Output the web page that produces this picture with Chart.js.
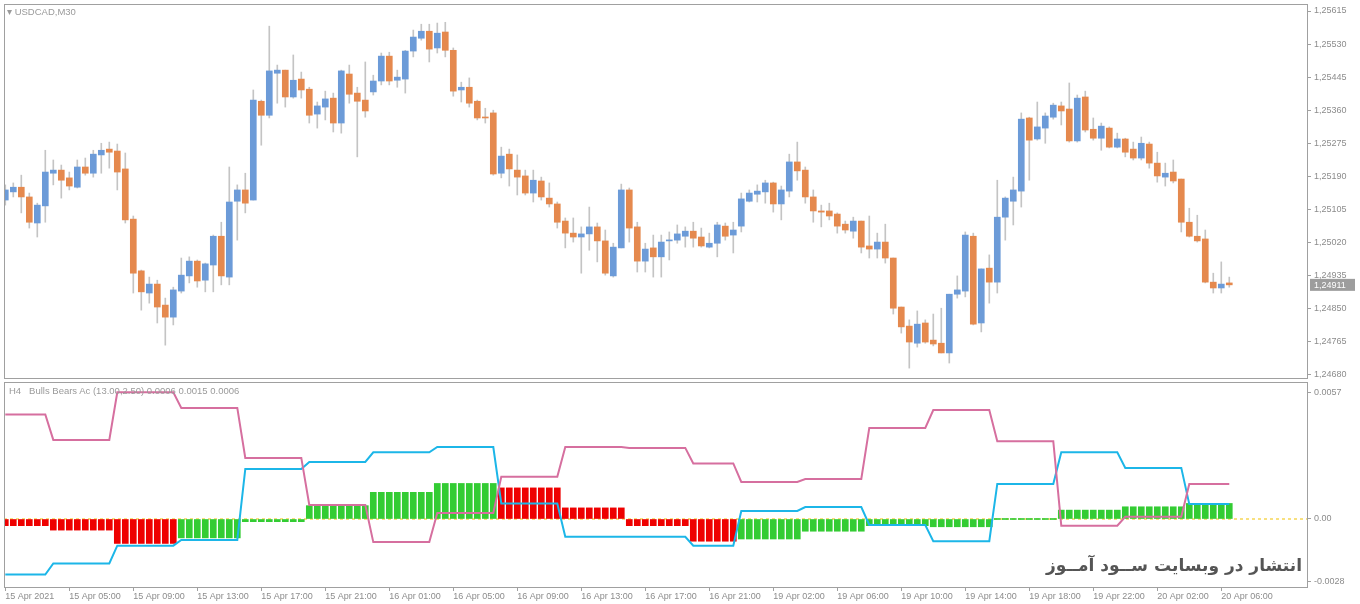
<!DOCTYPE html>
<html><head><meta charset="utf-8">
<script src="https://cdn.jsdelivr.net/npm/chart.js@4.4.1/dist/chart.umd.min.js"></script>
<style>
html,body{margin:0;padding:0;background:#fff;width:1360px;height:604px;overflow:hidden}
canvas{position:absolute;left:0}
.t{position:absolute;font:9.5px "Liberation Sans",Arial,sans-serif;color:#9a9a9a;white-space:pre}
#wm{position:absolute;right:58px;top:555px;font:bold 17px "DejaVu Sans",sans-serif;color:#555;direction:rtl}
</style></head><body>
<canvas id="c1" width="1360" height="380" style="top:0"></canvas>
<canvas id="c2" width="1360" height="224" style="top:380px"></canvas>
<div class="t" style="left:7px;top:6px">&#9662; USDCAD,M30</div>
<div class="t" style="left:9px;top:385px">H4   Bulls Bears Ac (13.00,2.50) 0.0006 0.0015 0.0006</div>
<div id="wm">انتشار در وبسایت ســود آمــوز</div>
<script>
const opens=[1.25129,1.25150,1.25162,1.25137,1.25070,1.25114,1.25198,1.25206,1.25186,1.25162,
1.25214,1.25198,1.25245,1.25260,1.25255,1.25209,1.25080,1.24947,1.24890,1.24913,
1.24859,1.24828,1.24895,1.24934,1.24972,1.24923,1.24962,1.25036,1.24931,1.25126,
1.25155,1.25129,1.25383,1.25347,1.25455,1.25463,1.25394,1.25440,1.25414,1.25350,
1.25368,1.25391,1.25327,1.25453,1.25404,1.25386,1.25407,1.25435,1.25499,1.25437,
1.25440,1.25512,1.25545,1.25563,1.25520,1.25561,1.25514,1.25412,1.25419,1.25383,
1.25342,1.25353,1.25198,1.25247,1.25206,1.25191,1.25147,1.25178,1.25134,1.25119,
1.25075,1.25044,1.25034,1.25042,1.25060,1.25024,1.24934,1.25006,1.25155,1.25060,
1.24972,1.25006,1.24983,1.25024,1.25026,1.25036,1.25049,1.25034,1.25008,1.25018,
1.25062,1.25039,1.25062,1.25126,1.25144,1.25150,1.25173,1.25119,1.25152,1.25227,
1.25206,1.25137,1.25101,1.25101,1.25093,1.25067,1.25049,1.25075,1.25011,1.25003,
1.25021,1.24980,1.24854,1.24805,1.24761,1.24813,1.24769,1.24761,1.24736,1.24887,
1.24895,1.25036,1.24813,1.24954,1.24918,1.25085,1.25126,1.25152,1.25340,1.25286,
1.25314,1.25342,1.25371,1.25363,1.25281,1.25394,1.25311,1.25288,1.25314,1.25265,
1.25286,1.25260,1.25237,1.25273,1.25224,1.25188,1.25201,1.25183,1.25072,1.25036,
1.25029,1.24918,1.24903,1.24916];
const highs=[1.25168,1.25173,1.25193,1.25147,1.25121,1.25257,1.25232,1.25219,1.25201,1.25232,
1.25237,1.25257,1.25275,1.25278,1.25273,1.25250,1.25088,1.24949,1.24931,1.24923,
1.24877,1.24905,1.24980,1.24983,1.24975,1.24967,1.25039,1.25072,1.25214,1.25168,
1.25198,1.25412,1.25386,1.25576,1.25476,1.25463,1.25502,1.25458,1.25419,1.25381,
1.25409,1.25404,1.25463,1.25476,1.25419,1.25484,1.25450,1.25507,1.25509,1.25463,
1.25514,1.25566,1.25581,1.25581,1.25584,1.25586,1.25520,1.25432,1.25443,1.25386,
1.25365,1.25360,1.25265,1.25260,1.25245,1.25206,1.25206,1.25188,1.25173,1.25124,
1.25083,1.25083,1.25060,1.25111,1.25070,1.25052,1.25018,1.25170,1.25160,1.25072,
1.25018,1.25039,1.25039,1.25047,1.25065,1.25060,1.25072,1.25057,1.25044,1.25072,
1.25070,1.25072,1.25147,1.25155,1.25168,1.25180,1.25175,1.25165,1.25247,1.25278,
1.25214,1.25155,1.25116,1.25121,1.25096,1.25075,1.25085,1.25075,1.25088,1.25044,
1.25067,1.24980,1.24854,1.24821,1.24844,1.24821,1.24836,1.24851,1.24887,1.24934,
1.25047,1.25044,1.24952,1.24988,1.25180,1.25137,1.25188,1.25353,1.25342,1.25381,
1.25353,1.25378,1.25381,1.25430,1.25399,1.25409,1.25340,1.25327,1.25317,1.25301,
1.25288,1.25278,1.25291,1.25278,1.25252,1.25224,1.25232,1.25183,1.25108,1.25090,
1.25052,1.24941,1.24970,1.24931];
const lows=[1.25116,1.25137,1.25096,1.25057,1.25034,1.25072,1.25168,1.25134,1.25155,1.25160,
1.25193,1.25188,1.25198,1.25211,1.25155,1.25070,1.24890,1.24846,1.24864,1.24813,
1.24756,1.24808,1.24890,1.24916,1.24905,1.24893,1.24893,1.24911,1.24911,1.25026,
1.25096,1.25129,1.25270,1.25340,1.25378,1.25368,1.25391,1.25391,1.25327,1.25314,
1.25335,1.25304,1.25301,1.25378,1.25240,1.25342,1.25399,1.25425,1.25425,1.25419,
1.25404,1.25497,1.25540,1.25484,1.25507,1.25497,1.25396,1.25381,1.25368,1.25335,
1.25327,1.25193,1.25186,1.25165,1.25142,1.25142,1.25124,1.25129,1.25111,1.25057,
1.25006,1.25021,1.24941,1.25000,1.24970,1.24936,1.24931,1.25006,1.25021,1.24944,
1.24944,1.24931,1.24931,1.24975,1.25018,1.25008,1.25008,1.25008,1.25006,1.24983,
1.25026,1.24993,1.25047,1.25124,1.25124,1.25121,1.25098,1.25078,1.25137,1.25180,
1.25121,1.25072,1.25060,1.25078,1.25044,1.25044,1.25031,1.24993,1.24980,1.24980,
1.24967,1.24836,1.24787,1.24697,1.24751,1.24761,1.24754,1.24736,1.24710,1.24877,
1.24880,1.24808,1.24790,1.24864,1.24890,1.25026,1.25065,1.25111,1.25180,1.25283,
1.25275,1.25337,1.25322,1.25278,1.25278,1.25304,1.25283,1.25257,1.25263,1.25263,
1.25240,1.25232,1.25232,1.25211,1.25175,1.25165,1.25173,1.25047,1.25034,1.25021,
1.24916,1.24890,1.24890,1.24905];
const closes=[1.25155,1.25162,1.25137,1.25072,1.25116,1.25201,1.25206,1.25180,1.25165,1.25214,
1.25198,1.25247,1.25257,1.25252,1.25201,1.25078,1.24941,1.24893,1.24913,1.24854,
1.24828,1.24898,1.24936,1.24972,1.24921,1.24965,1.25036,1.24934,1.25124,1.25155,
1.25121,1.25386,1.25347,1.25461,1.25463,1.25394,1.25437,1.25412,1.25347,1.25371,
1.25389,1.25327,1.25461,1.25401,1.25383,1.25358,1.25435,1.25499,1.25435,1.25445,
1.25512,1.25548,1.25563,1.25517,1.25558,1.25514,1.25409,1.25419,1.25378,1.25340,
1.25340,1.25196,1.25242,1.25209,1.25188,1.25147,1.25180,1.25137,1.25119,1.25072,
1.25044,1.25034,1.25042,1.25060,1.25024,1.24941,1.25008,1.25155,1.25057,1.24972,
1.25003,1.24983,1.25021,1.25026,1.25042,1.25049,1.25031,1.25011,1.25018,1.25065,
1.25036,1.25052,1.25132,1.25147,1.25152,1.25173,1.25119,1.25155,1.25227,1.25204,
1.25137,1.25101,1.25098,1.25088,1.25062,1.25052,1.25075,1.25008,1.25003,1.25021,
1.24980,1.24851,1.24803,1.24764,1.24810,1.24764,1.24759,1.24736,1.24887,1.24898,
1.25039,1.24810,1.24952,1.24918,1.25085,1.25134,1.25155,1.25337,1.25283,1.25317,
1.25345,1.25373,1.25358,1.25281,1.25391,1.25309,1.25288,1.25319,1.25265,1.25286,
1.25252,1.25237,1.25275,1.25224,1.25191,1.25198,1.25178,1.25072,1.25036,1.25024,
1.24918,1.24903,1.24913,1.24911];
const priceTicks=[1.25615,1.25530,1.25445,1.25360,1.25275,1.25190,1.25105,1.25020,1.24935,1.24850,1.24765,1.24680];
const lastPrice=1.24911;
const timeLabels=["15 Apr 2021","15 Apr 05:00","15 Apr 09:00","15 Apr 13:00","15 Apr 17:00","15 Apr 21:00","16 Apr 01:00","16 Apr 05:00","16 Apr 09:00","16 Apr 13:00","16 Apr 17:00","16 Apr 21:00","19 Apr 02:00","19 Apr 06:00","19 Apr 10:00","19 Apr 14:00","19 Apr 18:00","19 Apr 22:00","20 Apr 02:00","20 Apr 06:00"];
const hist=[-0.0003,-0.0003,-0.0003,-0.0003,-0.0003,-0.0003,
-0.0005,-0.0005,-0.0005,-0.0005,-0.0005,-0.0005,-0.0005,-0.0005,
-0.0011,-0.0011,-0.0011,-0.0011,-0.0011,-0.0011,-0.0011,-0.0011,
-0.00085,-0.00085,-0.00085,-0.00085,-0.00085,-0.00085,-0.00085,-0.00085,
-0.00012,-0.00012,-0.00012,-0.00012,-0.00012,-0.00012,-0.00012,-0.00012,
0.0006,0.0006,0.0006,0.0006,0.0006,0.0006,0.0006,0.0006,
0.0012,0.0012,0.0012,0.0012,0.0012,0.0012,0.0012,0.0012,
0.0016,0.0016,0.0016,0.0016,0.0016,0.0016,0.0016,0.0016,
0.0014,0.0014,0.0014,0.0014,0.0014,0.0014,0.0014,0.0014,
0.0005,0.0005,0.0005,0.0005,0.0005,0.0005,0.0005,0.0005,
-0.0003,-0.0003,-0.0003,-0.0003,-0.0003,-0.0003,-0.0003,-0.0003,
-0.001,-0.001,-0.001,-0.001,-0.001,-0.001,
-0.0009,-0.0009,-0.0009,-0.0009,-0.0009,-0.0009,-0.0009,-0.0009,
-0.00055,-0.00055,-0.00055,-0.00055,-0.00055,-0.00055,-0.00055,-0.00055,
-0.0003,-0.0003,-0.0003,-0.0003,-0.0003,-0.0003,-0.0003,-0.0003,
-0.00035,-0.00035,-0.00035,-0.00035,-0.00035,-0.00035,-0.00035,-0.00035,
-0.00003,-0.00003,-0.00003,-0.00003,-0.00003,-0.00003,-0.00003,-0.00003,
0.0004,0.0004,0.0004,0.0004,0.0004,0.0004,0.0004,0.0004,
0.00055,0.00055,0.00055,0.00055,0.00055,0.00055,0.00055,0.00055,
0.0007,0.0007,0.0007,0.0007,0.0007,0.0007];
const histState="RRRRRRRRRRRRRRRRRRRRRRGGGGGGGGGGGGGGGGGGGGGGGGGGGGGGGGGGGGGGGGRRRRRRRRRRRRRRRRRRRRRRRRRRRRRRGGGGGGGGGGGGGGGGGGGGGGGGGGGGGGGGGGGGGGGGGGGGGGGGGGGGGGGGGGGGGG";
const bulls=[0.0047,0.0047,0.0047,0.0047,0.0047,0.0047,
0.00356,0.00356,0.00356,0.00356,0.00356,0.00356,0.00356,0.00356,
0.0057,0.0057,0.0057,0.0057,0.0057,0.0057,0.0057,0.0057,
0.005,0.005,0.005,0.005,0.005,0.005,0.005,0.005,
0.00275,0.00275,0.00275,0.00275,0.00275,0.00275,0.00275,0.00275,
0.00063,0.00063,0.00063,0.00063,0.00063,0.00063,0.00063,0.00063,
-0.00104,-0.00104,-0.00104,-0.00104,-0.00104,-0.00104,-0.00104,-0.00104,
0.00027,0.00027,0.00027,0.00027,0.00027,0.00027,0.00027,0.00027,
0.0019,0.0019,0.0019,0.0019,0.0019,0.0019,0.0019,0.0019,
0.00324,0.00324,0.00324,0.00324,0.00324,0.00324,0.00324,0.00324,
0.0032,0.0032,0.0032,0.0032,0.0032,0.0032,0.0032,0.0032,
0.0025,0.0025,0.0025,0.0025,0.0025,0.0025,
0.00167,0.00167,0.00167,0.00167,0.00167,0.00167,0.00167,0.00167,
0.0018,0.0018,0.0018,0.0018,0.0018,0.0018,0.0018,0.0018,
0.0041,0.0041,0.0041,0.0041,0.0041,0.0041,0.0041,0.0041,
0.0049,0.0049,0.0049,0.0049,0.0049,0.0049,0.0049,0.0049,
0.0035,0.0035,0.0035,0.0035,0.0035,0.0035,0.0035,0.0035,
-0.0003,-0.0003,-0.0003,-0.0003,-0.0003,-0.0003,-0.0003,-0.0003,
0.0001,0.0001,0.0001,0.0001,0.0001,0.0001,0.0001,0.0001,
0.00158,0.00158,0.00158,0.00158,0.00158,0.00158];
const bears=[-0.0025,-0.0025,-0.0025,-0.0025,-0.0025,-0.0025,
-0.002,-0.002,-0.002,-0.002,-0.002,-0.002,-0.002,-0.002,
-0.0012,-0.0012,-0.0012,-0.0012,-0.0012,-0.0012,-0.0012,-0.0012,
-0.00094,-0.00094,-0.00094,-0.00094,-0.00094,-0.00094,-0.00094,-0.00094,
0.00225,0.00225,0.00225,0.00225,0.00225,0.00225,0.00225,0.00225,
0.00257,0.00257,0.00257,0.00257,0.00257,0.00257,0.00257,0.00257,
0.003,0.003,0.003,0.003,0.003,0.003,0.003,0.003,
0.00324,0.00324,0.00324,0.00324,0.00324,0.00324,0.00324,0.00324,
0.0007,0.0007,0.0007,0.0007,0.0007,0.0007,0.0007,0.0007,
-0.0008,-0.0008,-0.0008,-0.0008,-0.0008,-0.0008,-0.0008,-0.0008,
-0.0008,-0.0008,-0.0008,-0.0008,-0.0008,-0.0008,-0.0008,-0.0008,
-0.0012,-0.0012,-0.0012,-0.0012,-0.0012,-0.0012,
0.00036,0.00036,0.00036,0.00036,0.00036,0.00036,0.00036,0.00036,
0.00054,0.00054,0.00054,0.00054,0.00054,0.00054,0.00054,0.00054,
-0.00027,-0.00027,-0.00027,-0.00027,-0.00027,-0.00027,-0.00027,-0.00027,
-0.001,-0.001,-0.001,-0.001,-0.001,-0.001,-0.001,-0.001,
0.00158,0.00158,0.00158,0.00158,0.00158,0.00158,0.00158,0.00158,
0.003,0.003,0.003,0.003,0.003,0.003,0.003,0.003,
0.0023,0.0023,0.0023,0.0023,0.0023,0.0023,0.0023,0.0023,
0.00067,0.00067,0.00067,0.00067,0.00067,0.00067];
const indTicks=[0.0057,0,-0.0028];

const FONT={family:'"Liberation Sans", Arial, sans-serif',size:9};
const GRAY='#8c8c8c';
const XMIN=-0.1625,XMAX=162.84;
const blue='#6c9bd8',orange='#e5894e';
const idx=opens.map((_,i)=>i);
const frame={id:'frame',afterDraw(c){const a=c.chartArea,x=c.ctx;x.save();x.strokeStyle='#a0a0a0';x.lineWidth=1;x.strokeRect(Math.round(a.left)+0.5,Math.round(a.top)+0.5,Math.round(a.right-a.left)-1,Math.round(a.bottom-a.top)-1);x.restore();}};
const priceBox={id:'pbox',afterDraw(c){const y=c.scales.y.getPixelForValue(lastPrice),x=c.ctx,l=c.chartArea.right+2;x.save();x.fillStyle='#9d9d9d';x.fillRect(l,y-6,45,12);x.fillStyle='#fff';x.font='9px "Liberation Sans", Arial';x.textBaseline='middle';x.fillText(lastPrice.toFixed(5).replace('.',','),l+4,y+0.5);x.restore();}};
const noPadY=s=>{s.width=52;s.paddingTop=0;s.paddingBottom=0;};
const xs={type:'linear',min:XMIN,max:XMAX,display:false,offset:false};

new Chart(document.getElementById('c1'),{
 type:'bar',
 data:{datasets:[
  {data:idx.map(i=>({x:i,y:[opens[i],closes[i]]})),backgroundColor:idx.map(i=>closes[i]>=opens[i]?blue:orange),barThickness:6,grouped:false,minBarLength:1,order:0},
  {data:idx.map(i=>({x:i,y:[lows[i],highs[i]]})),backgroundColor:'#c4c4c4',barThickness:1,grouped:false,order:1}
 ]},
 options:{responsive:false,animation:false,devicePixelRatio:1,
  layout:{padding:{left:4,top:4,right:0,bottom:1}},
  plugins:{legend:{display:false},tooltip:{enabled:false}},
  scales:{x:xs,
   y:{position:'right',min:1.24669,max:1.25633,
    afterBuildTicks(s){s.ticks=priceTicks.map(v=>({value:v}));},
    afterFit:noPadY,
    grid:{drawOnChartArea:false,drawTicks:true,tickLength:3,color:'#a0a0a0'},
    border:{display:false},
    ticks:{font:FONT,color:GRAY,padding:3,callback:v=>v.toFixed(5).replace('.',',')}}}},
 plugins:[frame,priceBox]});

new Chart(document.getElementById('c2'),{
 type:'bar',
 data:{datasets:[
  {type:'line',data:idx.map(i=>({x:i,y:bulls[i]})),borderColor:'#d66f9f',borderWidth:2,pointRadius:0,tension:0,order:0},
  {type:'line',data:idx.map(i=>({x:i,y:bears[i]})),borderColor:'#1cb6e8',borderWidth:2,pointRadius:0,tension:0,order:0},
  {type:'line',data:[{x:XMIN,y:0},{x:XMAX,y:0}],borderColor:'#f2c200',borderWidth:1,borderDash:[3,3],pointRadius:0,order:2},
  {data:idx.map(i=>({x:i,y:[0,hist[i]]})),backgroundColor:idx.map(i=>histState[i]==='R'?'#ee0000':'#33cc33'),barThickness:6,grouped:false,minBarLength:1,order:1}
 ]},
 options:{responsive:false,animation:false,devicePixelRatio:1,
  layout:{padding:{left:4,top:2,right:0,bottom:0}},
  plugins:{legend:{display:false},tooltip:{enabled:false}},
  scales:{
   x:{type:'linear',min:XMIN,max:XMAX,offset:false,
    afterBuildTicks(s){s.ticks=timeLabels.map((_,k)=>({value:k*8}));},
    afterFit(s){s.height=16;s.paddingLeft=0;s.paddingRight=0;},
    grid:{drawOnChartArea:false,drawTicks:true,tickLength:3,color:'#a0a0a0',offset:false},
    border:{display:false},
    ticks:{font:FONT,color:GRAY,padding:0,align:'start',maxRotation:0,autoSkip:false,callback:(v)=>timeLabels[Math.round(v/8)]}},
   y:{position:'right',min:-0.003105,max:0.006165,
    afterBuildTicks(s){s.ticks=indTicks.map(v=>({value:v}));},
    afterFit:noPadY,
    grid:{drawOnChartArea:false,drawTicks:true,tickLength:3,color:'#a0a0a0'},
    border:{display:false},
    ticks:{font:FONT,color:GRAY,padding:3,callback:v=>v===0?'0.00':String(v)}}}},
 plugins:[frame]});
</script></body></html>
